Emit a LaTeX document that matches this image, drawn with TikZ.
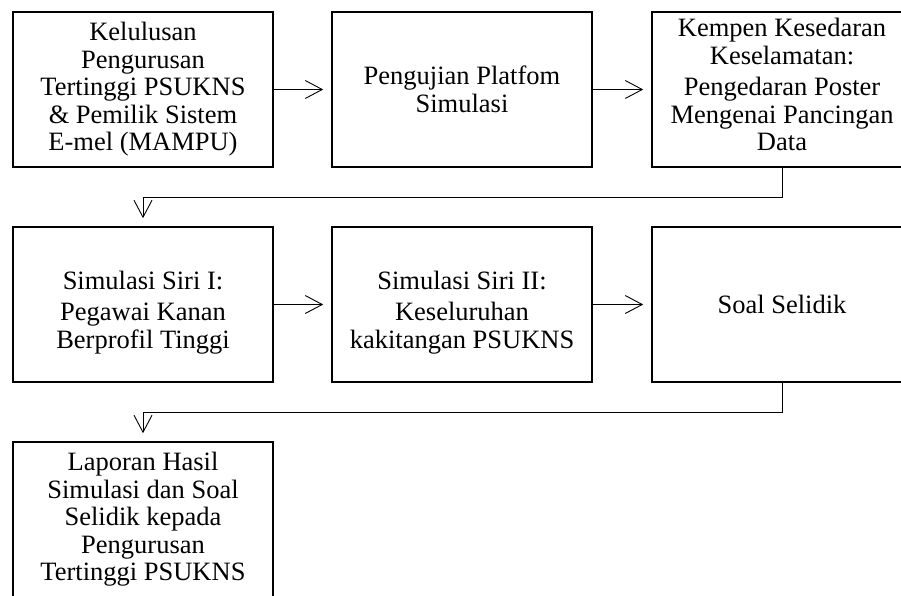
\documentclass[tikz,border=0pt]{standalone}
\usepackage{fontspec}
\setmainfont{Liberation Serif}
\usetikzlibrary{arrows.meta}

\tikzset{
  kotak/.style={draw, line width=1.6pt, rectangle, minimum width=260pt, minimum height=155pt,
    inner sep=0pt, align=center, font=\fontsize{26.5}{27.5}\selectfont},
  panah/.style={line width=0.9pt, -{Straight Barb[length=17pt,width=18pt]}, shorten >=8pt}
}

\begin{document}
\begin{tikzpicture}[x=1pt, y=1pt]

\useasboundingbox (0,0) rectangle (901,595);
\clip (0,0) rectangle (901,595);

% Baris pertama
\node[kotak] (kelulusan) at (143,505.5) {Kelulusan\\ Pengurusan\\ Tertinggi PSUKNS\\ \& Pemilik Sistem\\ E-mel (MAMPU)};
\node[kotak] (pengujian) at (462,505.5) {Pengujian Platfom\\ Simulasi};
\node[kotak] (kempen) at (782,505.5) {Kempen Kesedaran\\ Keselamatan:\\[4pt] Pengedaran Poster\\ Mengenai Pancingan\\ Data\rule[-10pt]{0pt}{10pt}};

% Baris kedua
\node[kotak] (siri1) at (143,290.5) {\rule{0pt}{34pt}Simulasi Siri I:\\[4pt] Pegawai Kanan\\ Berprofil Tinggi};
\node[kotak] (siri2) at (462,290.5) {\rule{0pt}{34pt}Simulasi Siri II:\\[4pt] Keseluruhan\\ kakitangan PSUKNS};
\node[kotak] (soal) at (782,290.5) {Soal Selidik};

% Baris ketiga
\node[kotak] (laporan) at (143,75.5) {Laporan Hasil\\ Simulasi dan Soal\\ Selidik kepada\\ Pengurusan\\ Tertinggi PSUKNS};

% Sambungan
\draw[panah] (kelulusan) -- (pengujian);
\draw[panah] (pengujian) -- (kempen);
\draw[panah] (kempen.south) -- ++(0,-30) -| (siri1.north);
\draw[panah] (siri1) -- (siri2);
\draw[panah] (siri2) -- (soal);
\draw[panah] (soal.south) -- ++(0,-30) -| (laporan.north);

\end{tikzpicture}
\end{document}
